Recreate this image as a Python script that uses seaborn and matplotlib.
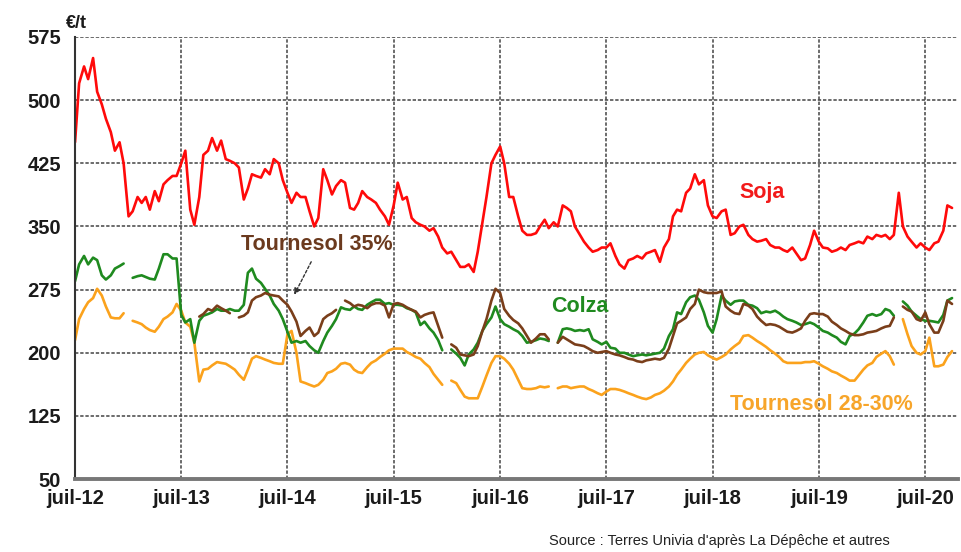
import numpy as np
import pandas as pd
import seaborn as sns
import matplotlib.pyplot as plt
import matplotlib.dates as mdates

sns.set_style("white")
plt.rcParams['font.family'] = ['Liberation Sans', 'DejaVu Sans']

nan = np.nan
# semi-monthly points from juil-12 (1st and 15th of each month)
dates = pd.date_range("2012-07-01", periods=199, freq="SMS")

soja = [
    450, 520, 540, 525, 550, 510, 495, 478, 462, 440, 450, 425,
    362, 368, 385, 378, 385, 370, 392, 380, 400, 405, 410, 410,
    425, 440, 370, 352, 385, 435, 440, 455, 440, 452, 430, 428,
    425, 420, 382, 395, 412, 410, 408, 418, 412, 430, 425, 405,
    390, 378, 390, 385, 385, 368, 350, 360, 418, 405, 388, 398,
    405, 402, 372, 370, 378, 392, 385, 382, 378, 370, 362, 352,
    375, 402, 382, 385, 360, 355, 352, 350, 345, 348, 338, 325,
    318, 320, 310, 302, 302, 305, 296, 320, 355, 385, 425, 435,
    445, 425, 385, 385, 362, 345, 340, 340, 342, 350, 358, 348,
    355, 350, 375, 372, 368, 350, 340, 332, 325, 320, 322, 325,
    325, 330, 315, 305, 300, 310, 312, 315, 312, 318, 320, 322,
    308, 325, 335, 362, 370, 368, 390, 395, 412, 400, 405, 375,
    362, 360, 368, 370, 340, 342, 350, 352, 340, 335, 332, 333,
    335, 328, 325, 325, 322, 320, 325, 318, 310, 312, 328, 345,
    332, 325, 324, 320, 322, 325, 322, 328, 330, 332, 330, 338,
    335, 340, 338, 340, 335, 340, 390, 350, 338, 332, 325, 330,
    325, 322, 330, 332, 345, 375, 372,
]

colza = [
    285, 305, 315, 305, 313, 310, 292, 287, 292, 300, 303, 306,
    nan, 289, 291, 292, 290, 288, 287, 300, 317, 317, 312, 312,
    245, 236, 240, 212, 238, 244, 246, 248, 252, 250, 250, 252,
    250, 250, 257, 295, 300, 288, 283, 276, 268, 258, 250, 240,
    225, 212, 214, 212, 214, 208, 203, 200, 214, 224, 232, 240,
    254, 252, 251, 255, 252, 251, 257, 260, 263, 263, 258, 259,
    257, 257, 256, 253, 251, 248, 233, 237, 229, 224, 215, 203,
    nan, 204, 199, 194, 185, 198, 204, 212, 226, 234, 242, 255,
    240, 234, 231, 228, 225, 220, 212, 213, 215, 217, 216, 214,
    nan, 212, 228, 229, 228, 226, 227, 226, 228, 216, 213, 210,
    213, 206, 205, 200, 200, 198, 196, 197, 198, 197, 198, 199,
    200, 205, 220, 228, 248, 246, 260, 266, 268, 263, 248, 232,
    224, 240, 268, 262, 257, 261, 262, 262, 257, 256, 253, 247,
    249, 248, 250, 247, 243, 240, 238, 236, 233, 234, 236, 234,
    230, 226, 224, 221, 218, 213, 210, 220, 223, 228, 236, 244,
    246, 244, 246, 252, 250, 244, nan, 261, 256, 249, 244, 240,
    238, 238, 237, 236, 245, 262, 265,
]

tournesol_35 = [
    nan, nan, nan, nan, nan, nan, nan, nan, nan, nan, nan, nan,
    nan, nan, nan, nan, nan, nan, nan, nan, nan, nan, nan, nan,
    nan, nan, nan, nan, 243, 246, 252, 250, 256, 253, 250, 247,
    nan, 242, 244, 248, 262, 266, 268, 271, 269, 268, 267, 262,
    257, 249, 237, 220, 226, 230, 220, 224, 240, 244, 247, 251,
    nan, 262, 259, 255, 257, 256, 253, 257, 259, 259, 256, 242,
    258, 259, 257, 254, 251, 249, 242, 245, 247, 248, 232, 218,
    nan, 210, 206, 198, 197, 196, 198, 208, 226, 240, 262, 276,
    271, 252, 244, 239, 235, 229, 220, 212, 217, 222, 222, 216,
    nan, 212, 219, 216, 213, 210, 209, 208, 205, 202, 200, 201,
    202, 200, 198, 197, 195, 193, 192, 190, 189, 191, 192, 193,
    192, 194, 205, 220, 235, 238, 242, 252, 258, 275, 272, 271,
    271, 271, 273, 255, 250, 247, 246, 258, 256, 252, 243, 238,
    233, 234, 233, 231, 228, 225, 224, 226, 229, 238, 246, 247,
    246, 246, 243, 237, 233, 229, 226, 223, 221, 221, 222, 224,
    225, 226, 229, 231, 232, 242, nan, 255, 251, 249, 240, 238,
    248, 234, 224, 224, 238, 262, 258,
]

tournesol_28_30 = [
    215, 240, 252, 260, 265, 276, 268, 255, 242, 241, 241, 247,
    nan, 238, 236, 234, 230, 227, 225, 231, 240, 243, 248, 258,
    250, 236, 231, 212, 166, 180, 181, 185, 189, 188, 187, 184,
    180, 174, 168, 180, 193, 196, 194, 192, 190, 188, 187, 187,
    222, 226, 200, 166, 164, 162, 160, 162, 168, 176, 178, 181,
    187, 188, 186, 180, 177, 176, 183, 188, 191, 195, 199, 203,
    205, 205, 205, 201, 198, 195, 193, 188, 183, 175, 168, 162,
    nan, 167, 164, 156, 148, 146, 146, 146, 160, 173, 188, 196,
    196, 193, 187, 180, 168, 158, 157, 157, 158, 160, 159, 160,
    nan, 158, 160, 160, 158, 159, 160, 160, 157, 155, 152, 150,
    154, 157, 157, 156, 154, 152, 150, 148, 146, 145, 147, 150,
    152, 155, 160, 166, 174, 180, 188, 193, 198, 200, 201, 197,
    194, 192, 195, 198, 204, 208, 212, 220, 221, 218, 214, 211,
    207, 203, 199, 195, 190, 188, 188, 188, 188, 189, 189, 190,
    187, 184, 181, 178, 176, 173, 170, 167, 167, 173, 180, 185,
    188, 195, 199, 202, 196, 186, nan, 240, 222, 208, 200, 198,
    202, 218, 184, 184, 186, 195, 202,
]

series = {
    "Tournesol 28-30%": tournesol_28_30,
    "Colza": colza,
    "Tournesol 35%": tournesol_35,
    "Soja": soja,
}
colors = {
    "Tournesol 28-30%": "#FBA21C",
    "Colza": "#1F8A1F",
    "Tournesol 35%": "#7A3E1A",
    "Soja": "#FF0A0A",
}

frames = []
for name, vals in series.items():
    s = pd.Series(vals, index=dates, dtype=float)
    seg = s.isna().cumsum()
    frames.append(pd.DataFrame({"date": dates, "prix": s.values,
                                "serie": name, "seg": name + seg.astype(str).values}))
df = pd.concat(frames, ignore_index=True)

fig = plt.figure(figsize=(9.62, 5.52), dpi=100)
ax = fig.add_axes([0.078, 0.132, 0.918, 0.801])

sns.lineplot(data=df, x="date", y="prix", hue="serie", units="seg", estimator=None,
             palette=colors, linewidth=1.9, legend=False, ax=ax, sort=False)

ax.set_ylim(50, 575)
ax.set_yticks(np.arange(50, 576, 75))
ax.set_xlim(pd.Timestamp("2012-07-01"), pd.Timestamp("2020-10-22"))
ax.xaxis.set_major_locator(mdates.MonthLocator(bymonth=7, bymonthday=1))
ax.xaxis.set_major_formatter(mdates.DateFormatter("juil-%y"))

ax.grid(True, linestyle=(0, (2.2, 1.2)), color="#444444", linewidth=1.1)
ax.set_axisbelow(True)
for sp in ["top", "right"]:
    ax.spines[sp].set_visible(False)
ax.spines["left"].set_color("#333333")
ax.spines["left"].set_linewidth(1.5)
ax.spines["bottom"].set_color("#777777")
ax.spines["bottom"].set_linewidth(2.8)

ax.tick_params(axis="both", labelsize=14.5, colors="#1a1a1a", length=0)
ax.tick_params(axis="y", pad=10)
ax.tick_params(axis="x", pad=7)
for lab in ax.get_xticklabels() + ax.get_yticklabels():
    lab.set_fontweight("bold")
ax.set_xlabel("")
ax.set_ylabel("")

ax.text(-0.01, 1.012, "€/t", transform=ax.transAxes, fontsize=13,
        fontweight="bold", ha="left", va="bottom", color="#1a1a1a")

lab_kw = dict(fontsize=15.5, fontweight="bold", ha="center", va="center")
ax.text(pd.Timestamp("2018-12-20"), 390, "Soja", color="#F21A1A", **lab_kw)
ax.text(pd.Timestamp("2014-10-10"), 329, "Tournesol 35%", color="#6B3A1E", **lab_kw)
ax.text(pd.Timestamp("2017-04-01"), 255, "Colza", color="#1F8A1F", **lab_kw)
ax.text(pd.Timestamp("2019-07-10"), 139, "Tournesol 28-30%", color="#F7A52A", **lab_kw)

ax.annotate("", xy=(pd.Timestamp("2014-07-20"), 266),
            xytext=(pd.Timestamp("2014-09-25"), 311),
            arrowprops=dict(arrowstyle="-|>", linestyle=(0, (2, 1.5)),
                            color="#333333", lw=1, mutation_scale=9))

fig.text(0.925, 0.008, "Source : Terres Univia d'après La Dépêche et autres",
         fontsize=10.5, ha="right", va="bottom", color="#222222")

fig.savefig("out.png", dpi=100)
